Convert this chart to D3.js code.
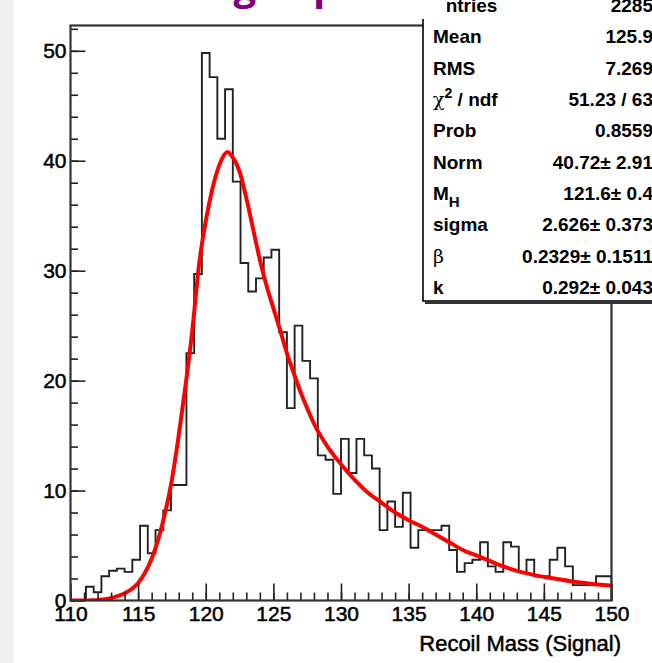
<!DOCTYPE html>
<html><head><meta charset="utf-8">
<script src="https://cdn.jsdelivr.net/npm/d3@7"></script>
<style>body{margin:0;background:#fff;} svg{display:block;}</style>
</head><body>
<svg id="chart" width="652" height="663"></svg>
<script>
// ---------------- data ----------------
const xRange = [110, 150];
const nBins = 70;
const binCounts = [0,0,1.25,0.75,2.2,2.7,2.9,2.6,3.7,6.8,
  4.3,6.4,8.2,10.5,10.5,22.5,29.7,49.8,47.6,42.0,
  46.5,38.1,30.7,28.1,29.3,31.2,31.9,24.4,17.5,25.0,
  21.8,20.2,13.2,12.8,9.7,14.7,11.6,14.7,13.2,12.0,
  6.4,9.0,6.7,9.8,4.8,6.4,6.4,6.4,6.8,4.6,
  2.6,3.4,3.7,5.3,3.1,2.6,5.3,4.9,2.6,3.7,
  2.2,2.2,3.7,4.8,3.1,1.4,1.4,1.4,2.2,2.2];
const fitX = [110,111,112,113,114,115,115.5,116,116.5,117,117.5,118,118.5,119,119.5,120,
  120.5,121,121.6,122,122.5,123,123.5,124,124.5,125,125.5,126,126.5,127,127.5,128,129,130,131,132,
  133,134,135,136,137,138,139,140,141,142,143,144,145,146,147,148,149,150];
const fitY = [0,0.01,0.05,0.22,0.65,1.6,2.5,3.8,5.6,8.0,11.0,15.0,19.5,24.5,30.5,34.5,
  37.5,39.6,40.8,40.3,39.0,36.6,33.8,31.0,28.6,26.6,24.6,22.5,20.7,19.0,17.5,16.1,14.0,12.4,11.0,9.8,
  8.9,8.0,7.3,6.7,6.0,5.3,4.6,4.1,3.6,3.1,2.7,2.4,2.15,1.95,1.75,1.6,1.45,1.35];
const xMajorTicks = [110,115,120,125,130,135,140,145,150];
const xMinorTicks = d3.range(110, 151, 1);
const yMajorTicks = [0,10,20,30,40,50];
const yMinorTicks = d3.range(0, 53, 2);
const yMax = 52.3;
const statLabels = ["Entries","Mean","RMS","chi2ndf","Prob","Norm","MH","sigma","beta","k"];
const statValues = ["2285","125.9","7.269","51.23 / 63","0.8559","40.72\u00b1 2.91","121.6\u00b1 0.4","2.626\u00b1 0.373","0.2329\u00b1 0.1511","0.292\u00b1 0.043"];
const xTitle = "Recoil Mass (Signal)";
const titleWords = ["Fitting","a","peak"];

// ---------------- layout ----------------
const W = 652, H = 663;
const plot = {left: 70.5, right: 611.5, top: 25.5, bottom: 600.5};
const FONT = "'Liberation Sans', Arial, Helvetica, sans-serif";
const svg = d3.select("#chart");

svg.append("rect").attr("x",0).attr("y",0).attr("width",W).attr("height",H).attr("fill","#fff");
svg.append("rect").attr("x",0).attr("y",0).attr("width",14).attr("height",H).attr("fill","#efefef");

const x = d3.scaleLinear().domain(xRange).range([plot.left, plot.right]);
const y = d3.scaleLinear().domain([0, yMax]).range([plot.bottom, plot.top]);

svg.append("defs").append("clipPath").attr("id","clip")
  .append("rect").attr("x",plot.left).attr("y",plot.top)
  .attr("width",plot.right-plot.left).attr("height",plot.bottom-plot.top);

// histogram
const bw = (xRange[1]-xRange[0])/nBins;
const pts = [[xRange[0], 0]];
binCounts.forEach((v,k)=>{ pts.push([xRange[0]+k*bw, v]); pts.push([xRange[0]+(k+1)*bw, v]); });
pts.push([xRange[1], 0]);
svg.append("path").datum(pts)
  .attr("d", d3.line().x(d=>x(d[0])).y(d=>y(d[1])))
  .attr("fill","none").attr("stroke","#222").attr("stroke-width",1.9)
  .attr("clip-path","url(#clip)");

// fit curve
svg.append("path").datum(fitX.map((v,i)=>[v, fitY[i]]))
  .attr("d", d3.line().x(d=>x(d[0])).y(d=>y(d[1])).curve(d3.curveMonotoneX))
  .attr("fill","none").attr("stroke","#ff0000").attr("stroke-width",4)
  .attr("stroke-linejoin","round").attr("clip-path","url(#clip)");

// axes
const gx = svg.append("g").attr("transform",`translate(0,${plot.bottom})`);
gx.append("g").call(d3.axisBottom(x).tickValues(xMinorTicks).tickSize(-8).tickFormat(""));
gx.append("g").call(d3.axisBottom(x).tickValues(xMajorTicks).tickSize(-17).tickPadding(6).tickFormat(d3.format("d")));
gx.selectAll(".domain").remove();
gx.selectAll("line").attr("stroke","#222").attr("stroke-width",1.6);
gx.selectAll("text").attr("font-family",FONT).attr("font-size",21).attr("fill","#000")
  .attr("stroke","#000").attr("stroke-width",0.5);

const gy = svg.append("g").attr("transform",`translate(${plot.left},0)`);
gy.append("g").call(d3.axisLeft(y).tickValues(yMinorTicks).tickSize(-7.5).tickFormat(""));
gy.append("g").call(d3.axisLeft(y).tickValues(yMajorTicks).tickSize(-15).tickPadding(4).tickFormat(d3.format("d")));
gy.selectAll(".domain").remove();
gy.selectAll("line").attr("stroke","#222").attr("stroke-width",1.6);
gy.selectAll("text").attr("font-family",FONT).attr("font-size",21).attr("fill","#000")
  .attr("stroke","#000").attr("stroke-width",0.5);

// frame
svg.append("rect").attr("x",plot.left).attr("y",plot.top)
  .attr("width",plot.right-plot.left).attr("height",plot.bottom-plot.top)
  .attr("fill","none").attr("stroke","#333").attr("stroke-width",2.2);

// axis title
svg.append("text").attr("x",621).attr("y",651).attr("text-anchor","end")
  .attr("font-family",FONT).attr("font-size",22).attr("fill","#000")
  .attr("stroke","#000").attr("stroke-width",0.5).text(xTitle);

// stats box
const box = {x: 423, y: -10, bottom: 301};
svg.append("rect").attr("x",box.x).attr("y",box.y).attr("width",W-box.x+20).attr("height",box.bottom-box.y)
  .attr("fill","#fff").attr("stroke","#000").attr("stroke-width",1.6);
svg.append("rect").attr("x",box.x+2).attr("y",box.bottom).attr("width",W-box.x).attr("height",3).attr("fill","#333");

const rowY = d3.scalePoint().domain(statLabels).range([12, 294]);
const gs = svg.append("g").attr("font-family",FONT).attr("font-size",19).attr("font-weight","bold").attr("fill","#000");
statLabels.forEach((lab,i)=>{
  const t = gs.append("text").attr("x",433).attr("y",rowY(lab));
  if (lab === "chi2ndf") {
    t.append("tspan").attr("font-weight","normal").attr("font-family","'DejaVu Serif', serif").text("\u03c7");
    t.append("tspan").attr("dy",-8).attr("font-size",14).text("2");
    t.append("tspan").attr("dy",8).text(" / ndf");
  } else if (lab === "MH") {
    t.append("tspan").text("M");
    t.append("tspan").attr("dy",7).attr("font-size",15).text("H");
  } else if (lab === "beta") {
    t.append("tspan").attr("font-weight","normal").attr("font-family","'DejaVu Serif', serif").text("\u03b2");
  } else {
    t.text(lab);
  }
  gs.append("text").attr("x",653).attr("y",rowY(lab)).attr("text-anchor","end").text(statValues[i]);
});

// slide title (mostly cut off at top)
svg.append("rect").attr("x",150).attr("y",0).attr("width",447-150).attr("height",19).attr("fill","#fff");
const tg = svg.append("g").attr("font-family","'Open Sans', sans-serif").attr("font-weight","bold")
  .attr("font-size",40).attr("fill","#800080");
tg.append("text").attr("x",256).attr("y",0).attr("text-anchor","end").text(titleWords[0]);
tg.append("text").attr("x",266).attr("y",0).text(titleWords[1]);
tg.append("text").attr("x",313).attr("y",0).text(titleWords[2]);
</script>
</body></html>
